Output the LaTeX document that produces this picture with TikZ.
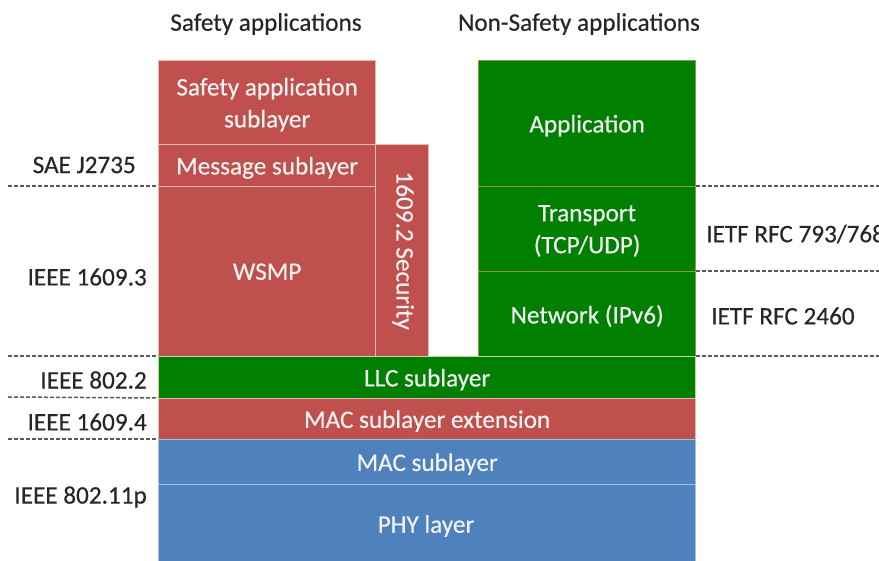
\documentclass[tikz,border=0pt]{standalone}
\usepackage{fontspec}
\setmainfont{Carlito}[FakeBold=0.4]
\definecolor{cred}{HTML}{C0504D}
\definecolor{credb}{HTML}{E6B9B8}
\definecolor{cgreen}{HTML}{007F00}
\definecolor{cgreenb}{HTML}{8A9A50}
\definecolor{cgreenl}{HTML}{C3D69B}
\definecolor{cblue}{HTML}{4F81BD}
\definecolor{cblueb}{HTML}{A7BFDE}
\definecolor{ctext}{HTML}{262626}
\begin{document}
\begin{tikzpicture}[x=1pt,y=-1pt,
  box/.style={draw, line width=1.3pt, anchor=north west, inner sep=0pt, text depth=0pt, text=white!95!black, align=center, font=\fontsize{25.2}{32}\selectfont},
  redbox/.style={box, fill=cred, draw=credb},
  greenbox/.style={box, fill=cgreen, draw=cgreenb},
  bluebox/.style={box, fill=cblue, draw=cblueb},
  intext/.style={text=white!95!black, font=\fontsize{25.2}{32}\selectfont, inner sep=0pt},
  lbl/.style={inner sep=0pt, text=ctext, font=\fontsize{25.2}{30}\selectfont},
  sep/.style={draw=black!65, line width=1.5pt, dash pattern=on 4pt off 2pt}]
\useasboundingbox (0,0) rectangle (879,561);
\clip (0,0) rectangle (879,561);
% titles
\node[lbl] (t1) at (266,24) {Safety applications};
\node[lbl] (t2) at (579,24) {Non-Safety applications};
% safety stack
\node[redbox, minimum width=217pt, minimum height=84pt] (sapp) at (158,60) {Safety application\\sublayer};
\node[redbox, minimum width=217pt, minimum height=42pt] (msg) at (158,144) {Message sublayer};
\node[redbox, minimum width=217pt, minimum height=170pt] (wsmp) at (158,186) {WSMP};
\node[redbox, minimum width=53pt, minimum height=212pt] (sec) at (375,144) {};
\node[intext, rotate=-90] (sect) at ([xshift=1pt]sec.center) {1609.2 Security};
% non-safety stack
\node[greenbox, minimum width=217pt, minimum height=126pt] (app) at (478,60) {Application};
\node[greenbox, minimum width=217pt, minimum height=85pt] (trans) at (478,186) {Transport\\(TCP/UDP)};
\node[greenbox, minimum width=217pt, minimum height=85pt] (net) at (478,271) {Network (IPv6)};
% common
\node[greenbox, draw=cgreenl, minimum width=537pt, minimum height=42pt] (llc) at (158,356) {LLC sublayer};
\node[redbox, minimum width=537pt, minimum height=41pt] (macx) at (158,398) {MAC sublayer extension};
\node[bluebox, minimum width=537pt, minimum height=45pt] (mac) at (158,439) {MAC sublayer};
\node[bluebox, minimum width=537pt, minimum height=82pt] (phy) at (158,484) {};
\node[intext] (phyt) at (426,526) {PHY layer};
% left labels
\node[lbl, anchor=east] (sae) at (136,165) {SAE J2735};
\node[lbl, anchor=east] (i3) at (147,277) {IEEE 1609.3};
\node[lbl, anchor=east] (i2) at (147,380) {IEEE 802.2};
\node[lbl, anchor=east] (i4) at (147,422) {IEEE 1609.4};
\node[lbl, anchor=east] (i11) at (147,497) {IEEE 802.11p};
% right labels
\node[lbl, anchor=west] (r1) at (706,234) {IETF RFC 793/768};
\node[lbl, anchor=west] (r2) at (711,316) {IETF RFC 2460};
% dashed separators
\coordinate (la) at (8,186);
\coordinate (lb) at (8,356);
\coordinate (lc) at (8,397);
\coordinate (ld) at (8,439);
\coordinate (ra) at (879,186);
\coordinate (rb) at (879,271);
\coordinate (rc) at (879,356);
\draw[sep] (la) -- (wsmp.north west);
\draw[sep] (lb) -- (llc.north west);
\draw[sep] (lc) -- (macx.north west);
\draw[sep] (ld) -- (mac.north west);
\draw[sep] (trans.north east) -- (ra);
\draw[sep] (net.north east) -- (rb);
\draw[sep] (llc.north east) -- (rc);
\end{tikzpicture}
\end{document}
